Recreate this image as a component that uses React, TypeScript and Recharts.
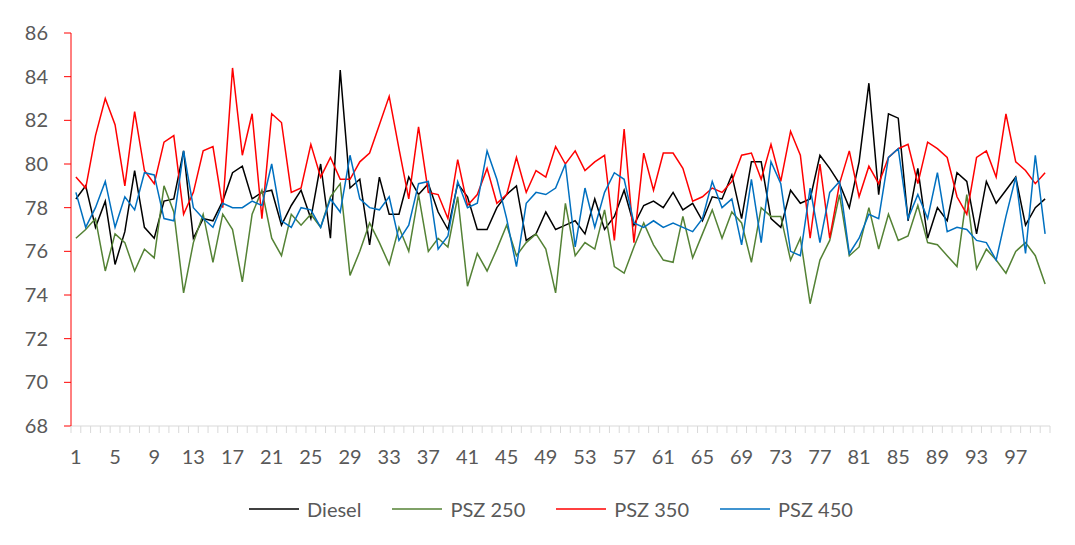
import { LineChart, Line, XAxis, YAxis, Legend } from 'recharts'

// sample index 1..100
const categories = Array.from({ length: 100 }, (_, i) => i + 1)
const shownLabels = [1, 5, 9, 13, 17, 21, 25, 29, 33, 37, 41, 45, 49, 53, 57, 61, 65, 69, 73, 77, 81, 85, 89, 93, 97]
const yTicks = [68, 70, 72, 74, 76, 78, 80, 82, 84, 86]

const diesel = [
  78.4, 79.0, 77.1, 78.3, 75.4, 76.9, 79.7, 77.1, 76.6, 78.3,
  78.4, 80.6, 76.6, 77.5, 77.4, 78.3, 79.6, 79.9, 78.4, 78.7,
  78.8, 77.2, 78.1, 78.8, 77.5, 80.0, 76.6, 84.3, 78.9, 79.3,
  76.3, 79.4, 77.7, 77.7, 79.4, 78.6, 79.1, 77.8, 77.0, 79.1,
  78.5, 77.0, 77.0, 78.0, 78.6, 79.0, 76.5, 76.8, 77.8, 77.0,
  77.2, 77.4, 76.8, 78.4, 77.0, 77.6, 78.8, 77.2, 78.1, 78.3,
  78.0, 78.7, 77.9, 78.2, 77.4, 78.5, 78.4, 79.5, 77.5, 80.1,
  80.1, 77.5, 77.1, 78.8, 78.2, 78.4, 80.4, 79.8, 79.1, 78.0,
  80.1, 83.7, 78.6, 82.3, 82.1, 77.4, 79.8, 76.6, 78.0, 77.4,
  79.6, 79.2, 76.8, 79.2, 78.2, 78.8, 79.4, 77.2, 78.0, 78.4,
]

const psz250 = [
  76.6, 77.0, 77.5, 75.1, 76.8, 76.4, 75.1, 76.1, 75.7, 79.0,
  77.8, 74.1, 76.4, 77.7, 75.5, 77.7, 77.0, 74.6, 77.7, 78.8,
  76.6, 75.8, 77.7, 77.2, 77.7, 77.1, 78.5, 79.1, 74.9, 76.0,
  77.3, 76.4, 75.4, 77.1, 76.0, 78.6, 76.0, 76.6, 76.2, 78.5,
  74.4, 75.9, 75.1, 76.1, 77.2, 75.8, 76.4, 76.8, 76.1, 74.1,
  78.2, 75.8, 76.4, 76.1, 77.9, 75.3, 75.0, 76.2, 77.3, 76.3,
  75.6, 75.5, 77.6, 75.7, 76.8, 77.9, 76.6, 77.8, 77.3, 75.5,
  78.0, 77.6, 77.6, 75.6, 76.6, 73.6, 75.6, 76.5, 78.6, 75.8,
  76.2, 78.0, 76.1, 77.7, 76.5, 76.7, 78.1, 76.4, 76.3, 75.8,
  75.3, 78.6, 75.2, 76.1, 75.6, 75.0, 76.0, 76.4, 75.8, 74.5,
]

const psz350 = [
  79.4, 78.9, 81.3, 83.0, 81.8, 79.0, 82.4, 79.7, 79.1, 81.0,
  81.3, 77.7, 78.7, 80.6, 80.8, 78.0, 84.4, 80.4, 82.3, 77.5,
  82.3, 81.9, 78.7, 78.9, 80.9, 79.4, 80.3, 79.3, 79.3, 80.1,
  80.5, 81.8, 83.1, 80.7, 78.4, 81.7, 78.7, 78.6, 77.5, 80.2,
  78.1, 78.6, 79.8, 78.2, 78.6, 80.3, 78.7, 79.7, 79.4, 80.8,
  80.0, 80.6, 79.7, 80.1, 80.4, 76.5, 81.6, 76.4, 80.5, 78.8,
  80.5, 80.5, 79.8, 78.3, 78.5, 78.9, 78.7, 79.2, 80.4, 80.5,
  79.3, 80.9, 79.2, 81.5, 80.4, 76.6, 80.0, 76.6, 79.1, 80.6,
  78.5, 79.9, 79.1, 80.3, 80.7, 80.9, 79.1, 81.0, 80.7, 80.3,
  78.5, 77.7, 80.3, 80.6, 79.4, 82.3, 80.1, 79.7, 79.1, 79.6,
]

const psz450 = [
  78.7, 77.1, 78.0, 79.2, 77.1, 78.5, 77.9, 79.6, 79.5, 77.5,
  77.4, 80.6, 78.0, 77.5, 77.1, 78.2, 78.0, 78.0, 78.3, 78.1,
  80.0, 77.4, 77.1, 78.0, 77.9, 77.1, 78.4, 77.8, 80.4, 78.4,
  78.0, 77.9, 78.5, 76.5, 77.2, 79.1, 79.2, 76.1, 76.7, 79.2,
  78.0, 78.2, 80.6, 79.3, 77.5, 75.3, 78.2, 78.7, 78.6, 78.9,
  80.0, 76.2, 78.9, 77.1, 78.7, 79.6, 79.3, 77.3, 77.1, 77.4,
  77.1, 77.3, 77.1, 76.9, 77.5, 79.2, 78.0, 78.4, 76.3, 79.3,
  76.4, 80.1, 79.1, 76.0, 75.8, 78.9, 76.4, 78.7, 79.2, 75.9,
  76.6, 77.7, 77.5, 80.3, 80.7, 77.5, 78.6, 77.5, 79.6, 76.9,
  77.1, 77.0, 76.5, 76.4, 75.6, 77.6, 79.4, 75.9, 80.4, 76.8,
]

const seriesNames = ['Diesel', 'PSZ 250', 'PSZ 350', 'PSZ 450']
const seriesColors = ['#000000', '#548235', '#ff0000', '#0070c0']

const data = categories.map((n, i) => ({
  n,
  diesel: diesel[i],
  psz250: psz250[i],
  psz350: psz350[i],
  psz450: psz450[i],
}))

const CHART_W = 1059
const CHART_H = 532
const PLOT_LEFT = 63
const PLOT_RIGHT = 1042
const STEP = (PLOT_RIGHT - PLOT_LEFT) / categories.length
const TEXT = '#595959'
const FONT = 'Lato, sans-serif'

function CategoryTick(props: any) {
  const { x, y, payload } = props
  const v = payload.value
  const half = STEP / 2
  return (
    <g>
      <line x1={x - half} x2={x - half} y1={y} y2={y + 7} stroke="#d9d9d9" />
      {v === categories[categories.length - 1] && (
        <line x1={x + half} x2={x + half} y1={y} y2={y + 7} stroke="#d9d9d9" />
      )}
      {shownLabels.includes(v) && (
        <text x={x} y={y + 38} textAnchor="middle" fill={TEXT} fontSize={20} fontFamily={FONT}>
          {v}
        </text>
      )}
    </g>
  )
}

function LegendContent() {
  return (
    <div style={{ display: 'flex', justifyContent: 'center', alignItems: 'center', gap: 31, paddingLeft: 44, fontFamily: FONT }}>
      {seriesNames.map((name, i) => (
        <div key={name} style={{ display: 'flex', alignItems: 'center' }}>
          <svg width={50} height={10} style={{ display: 'block' }}>
            <line x1={0} x2={50} y1={5} y2={5} stroke={seriesColors[i]} strokeWidth={1.5} />
          </svg>
          <span style={{ marginLeft: 8, fontSize: 20, color: TEXT }}>{name}</span>
        </div>
      ))}
    </div>
  )
}

export default function App() {
  const keys = ['diesel', 'psz250', 'psz350', 'psz450']
  return (
    <div
      style={{
        marginTop: -4,
        marginLeft: -1,
        width: CHART_W,
        height: CHART_H,
        borderTop: '1px solid #d9d9d9',
        borderLeft: '1px solid #d9d9d9',
        background: '#fff',
      }}
    >
      <LineChart
        width={CHART_W}
        height={CHART_H}
        data={data}
        margin={{ top: 28, right: CHART_W - PLOT_RIGHT, bottom: 6, left: 0 }}
      >
        <XAxis
          dataKey="n"
          type="number"
          domain={[0.5, 100.5]}
          ticks={categories}
          interval={0}
          tick={<CategoryTick />}
          tickLine={false}
          tickSize={0}
          tickMargin={0}
          height={71}
          axisLine={{ stroke: '#d9d9d9' }}
        />
        <YAxis
          domain={[68, 86]}
          ticks={yTicks}
          interval={0}
          width={PLOT_LEFT}
          axisLine={{ stroke: '#ff0000' }}
          tickLine={{ stroke: '#ff0000' }}
          tickSize={7}
          tickMargin={16}
          tick={{ fill: TEXT, fontSize: 20, fontFamily: FONT }}
        />
        <Legend verticalAlign="bottom" height={34} content={<LegendContent />} />
        {keys.map((k, i) => (
          <Line
            key={k}
            type="linear"
            dataKey={k}
            name={seriesNames[i]}
            stroke={seriesColors[i]}
            strokeWidth={1.5}
            dot={false}
            isAnimationActive={false}
          />
        ))}
      </LineChart>
    </div>
  )
}
